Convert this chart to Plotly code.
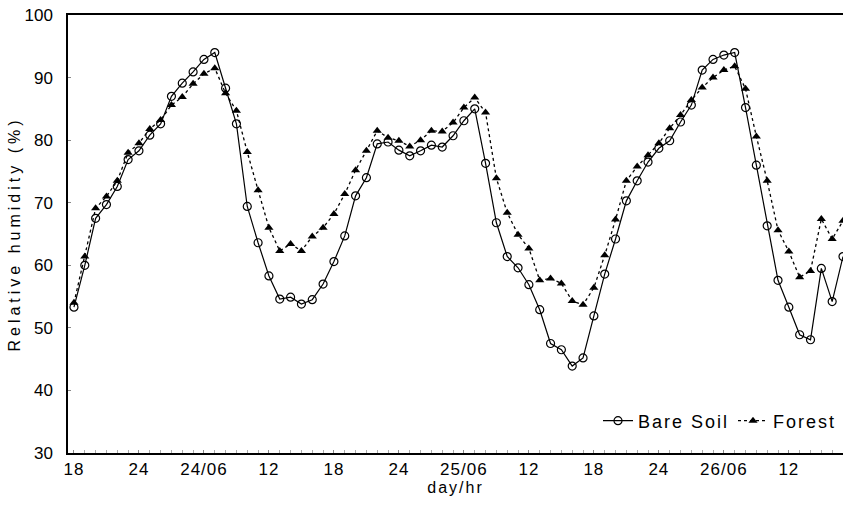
import plotly.graph_objects as go

hours = list(range(72))
bare_soil = [53.3, 60.0, 67.5, 69.7, 72.6, 76.9, 78.3, 80.8, 82.6, 87.0, 89.1, 90.9,
             92.9, 94.0, 88.3, 82.6, 69.4, 63.6, 58.3, 54.6, 54.9, 53.8, 54.5, 57.0,
             60.6, 64.7, 71.1, 74.0, 79.4, 79.7, 78.4, 77.5, 78.3, 79.2, 78.9, 80.7,
             83.1, 85.0, 76.3, 66.8, 61.4, 59.6, 56.9, 52.9, 47.5, 46.5, 43.9, 45.2,
             51.9, 58.6, 64.2, 70.3, 73.5, 76.5, 78.7, 79.9, 82.9, 85.6, 91.2, 92.9,
             93.6, 94.0, 85.2, 76.0, 66.3, 57.6, 53.3, 48.9, 48.1, 59.5, 54.2, 61.4]
forest = [54.0, 61.4, 69.1, 71.0, 73.5, 78.0, 79.5, 81.8, 83.2, 85.6, 86.9, 89.0,
          90.6, 91.5, 87.5, 84.7, 78.1, 72.0, 66.0, 62.3, 63.4, 62.3, 64.6, 66.0,
          68.2, 71.4, 75.2, 78.3, 81.5, 80.4, 79.9, 79.0, 80.0, 81.5, 81.4, 82.8,
          85.2, 86.8, 84.4, 73.9, 68.4, 64.9, 62.7, 57.6, 57.9, 57.1, 54.3, 53.7,
          56.4, 61.6, 67.3, 73.5, 75.8, 77.6, 79.5, 81.9, 84.0, 86.4, 88.4, 90.0,
          91.2, 91.8, 88.2, 80.6, 73.5, 65.6, 62.2, 58.1, 59.1, 67.4, 64.2, 67.1]
tick_hours = [0, 6, 12, 18, 24, 30, 36, 42, 48, 54, 60, 66]
tick_labels = ["18", "24", "24/06", "12", "18", "24", "25/06", "12", "18", "24", "26/06", "12"]

FONT = "Liberation Sans"

fig = go.Figure()
fig.add_trace(go.Scatter(
    x=hours, y=bare_soil, name="Bare Soil", mode="lines+markers",
    line=dict(color="black", width=1.2),
    marker=dict(symbol="circle-open", size=8, color="black", line=dict(width=1.2)),
))
fig.add_trace(go.Scatter(
    x=hours, y=forest, name="Forest", mode="lines+markers",
    line=dict(color="black", width=1.3, dash="dot"),
    marker=dict(symbol="triangle-up", size=8, color="black"),
))

fig.update_layout(
    width=844, height=517,
    margin=dict(l=68, r=1, t=15, b=64, autoexpand=False),
    paper_bgcolor="white", plot_bgcolor="white",
    font=dict(family=FONT, size=17, color="black"),
    showlegend=True,
    legend=dict(orientation="h", x=(598 - 68) / 775, xanchor="left", y=(453 - 421) / 438,
                yanchor="middle",
                bgcolor="rgba(0,0,0,0)", font=dict(size=18), itemwidth=30,
                entrywidth=90, entrywidthmode="pixels", tracegroupgap=0,
                borderwidth=0),
)
fig.update_xaxes(
    range=[-0.55, 71.0], tickmode="array", tickvals=tick_hours, ticktext=tick_labels,
    showline=True, linecolor="black", linewidth=1.5, mirror=True, automargin=False,
    ticks="inside", ticklen=3, tickcolor="#888", showgrid=False, zeroline=False,
    minor=dict(ticks="inside", ticklen=3, tickcolor="#aaa", dtick=1, showgrid=False),
    title=dict(text="day/hr", standoff=2, font=dict(size=16)),
    tickfont=dict(size=17),
)
fig.update_yaxes(
    range=[30, 100], tickmode="linear", tick0=30, dtick=10, automargin=False,
    showline=True, linecolor="black", linewidth=1.5,
    ticks="inside", ticklen=3, tickcolor="#888", showgrid=False, zeroline=False,
    title=dict(text="Relative humidity (%)", standoff=0, font=dict(size=16)),
    tickfont=dict(size=17), ticklabelstandoff=10,
)

post = """
document.body.style.margin='0';
var s=document.createElement('style');
s.innerHTML='body{margin:0} .main-svg .xtick text{letter-spacing:1px} .main-svg .ytitle{letter-spacing:4px} .main-svg .xtitle{letter-spacing:2px} .main-svg .legendtext{letter-spacing:2px}';
document.head.appendChild(s);
"""
fig.write_html("out.html", post_script=post, config={"displayModeBar": False})
